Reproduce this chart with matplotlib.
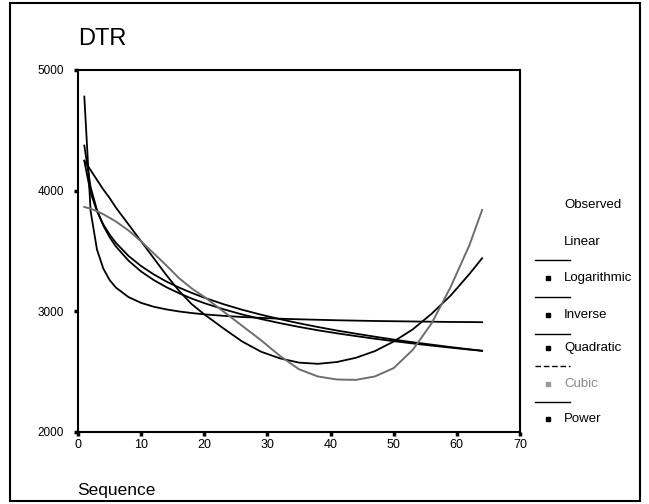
import matplotlib
matplotlib.use("Agg")
import matplotlib.pyplot as plt
from matplotlib.lines import Line2D
from matplotlib.patches import Rectangle

plt.rcParams['font.family'] = ['Liberation Sans', 'DejaVu Sans']

seq = [1, 2, 3, 4, 5, 6, 8, 10, 12, 14, 16, 18, 20, 23, 26, 29, 32, 35,
       38, 41, 44, 47, 50, 53, 56, 59, 62, 64]

logarithmic = [4245, 3983, 3830, 3721, 3637, 3568, 3459, 3375, 3306, 3247,
               3197, 3153, 3113, 3060, 3013, 2972, 2935, 2901, 2870, 2841,
               2815, 2790, 2766, 2744, 2724, 2704, 2685, 2673]
inverse = [4780, 3830, 3513, 3355, 3260, 3197, 3118, 3070, 3038, 3016,
           2999, 2986, 2975, 2963, 2953, 2946, 2939, 2934, 2930, 2926,
           2923, 2920, 2918, 2916, 2914, 2912, 2911, 2910]
quadratic = [4250, 4170, 4090, 4010, 3940, 3860, 3720, 3580, 3440, 3300,
             3170, 3060, 2975, 2860, 2750, 2665, 2610, 2575, 2565, 2580,
             2615, 2670, 2750, 2850, 2980, 3130, 3310, 3440]
cubic = [3865, 3850, 3830, 3805, 3775, 3745, 3670, 3580, 3480, 3380,
         3275, 3190, 3120, 3000, 2880, 2760, 2630, 2520, 2460, 2435,
         2432, 2460, 2530, 2680, 2900, 3200, 3550, 3840]
power = [4374, 4029, 3840, 3712, 3615, 3538, 3420, 3330, 3259, 3200,
         3150, 3106, 3068, 3018, 2974, 2936, 2902, 2871, 2843, 2818,
         2795, 2773, 2753, 2734, 2716, 2699, 2683, 2673]

legend_labels = ["Observed", "Linear", "Logarithmic", "Inverse",
                 "Quadratic", "Cubic", "Power"]

fig = plt.figure(figsize=(6.49, 5.04), dpi=100)
W, H = 649, 504

ax = fig.add_axes([78 / W, 1 - 432 / H, 442 / W, 362 / H])

ax.plot(seq, inverse, color="black", lw=1.3)
ax.plot(seq, logarithmic, color="black", lw=1.3)
ax.plot(seq, power, color="black", lw=1.3)
ax.plot(seq, quadratic, color="black", lw=1.3)
ax.plot(seq, cubic, color="#6e6e6e", lw=1.4)

ax.set_xlim(0, 70)
ax.set_ylim(2000, 5000)
ax.set_xticks(range(0, 71, 10))
ax.set_yticks([2000, 3000, 4000, 5000])
for s in ax.spines.values():
    s.set_linewidth(1.5)
ax.tick_params(axis="both", direction="out", length=3, width=2.5)
ax.tick_params(axis="y", labelsize=8.5, pad=7)
ax.tick_params(axis="x", labelsize=9, pad=2)

# title and axis caption, placed like the original
fig.text(78 / W, 1 - 45 / H, "DTR", fontsize=17, va="baseline", ha="left")
fig.text(77 / W, 1 - 495 / H, "Sequence", fontsize=12.5, va="baseline", ha="left")

# hand-drawn legend to the right of the plot
text_y = [205, 242, 278, 315, 348, 384, 419]
for lab, ty in zip(legend_labels, text_y):
    col = "#8a8a8a" if lab == "Cubic" else "black"
    fig.text(564 / W, 1 - ty / H, lab, fontsize=9.5, va="center", ha="left", color=col)
marker_y = [278, 315, 348, 384, 419]
for i, my in enumerate(marker_y):
    col = "#9a9a9a" if i == 3 else "black"
    fig.add_artist(Line2D([548 / W], [1 - my / H], marker="s", markersize=3,
                          color=col, linestyle="none"))
sep_y = [260, 297, 334, 366, 402]
for i, sy in enumerate(sep_y):
    ls = (0, (4, 2)) if i == 3 else "-"
    fig.add_artist(Line2D([535 / W, 570 / W], [1 - sy / H, 1 - sy / H],
                          color="black", lw=1.0, linestyle=ls))

# outer frame of the chart
fig.add_artist(Rectangle((10 / W, 3 / H), 630 / W, 498 / H, fill=False,
                         edgecolor="black", lw=1.5, transform=fig.transFigure))

fig.savefig("out.png", dpi=100)
